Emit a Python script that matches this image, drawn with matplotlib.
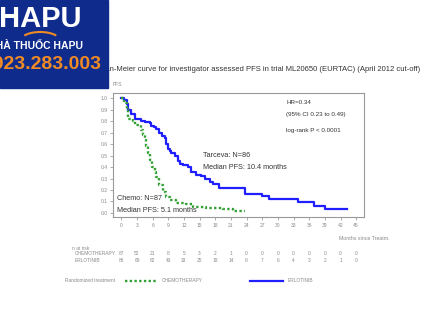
import matplotlib
matplotlib.use("Agg")
import matplotlib.pyplot as plt
import matplotlib.transforms as mtransforms
from matplotlib.lines import Line2D
from matplotlib.patches import Rectangle, Arc

plt.rcParams['font.family'] = ['Liberation Sans', 'DejaVu Sans']

# Kaplan-Meier steps
erlo_t = [0, 0.5, 1.0, 1.3, 1.8, 2.6, 3.8, 4.5, 5.4, 5.7, 6.3, 6.7, 7.3, 7.8, 8.3, 8.6, 8.9, 9.3, 9.6,
          10.2, 10.8, 11.3, 11.8, 12.8, 13.4, 14.4, 15.3, 16.0, 16.9, 17.5, 18.8, 23.6, 26.9, 28.2,
          33.9, 36.9, 39.0, 43.2]
erlo_s = [1.0, 0.98, 0.95, 0.90, 0.86, 0.82, 0.80, 0.79, 0.78, 0.76, 0.75, 0.73, 0.70, 0.67, 0.65, 0.60, 0.56, 0.54, 0.52,
          0.50, 0.45, 0.43, 0.42, 0.40, 0.36, 0.33, 0.32, 0.30, 0.27, 0.25, 0.22, 0.165, 0.148, 0.122,
          0.093, 0.064, 0.032, 0.032]
chemo_t = [0, 0.5, 1.0, 1.3, 2.2, 2.6, 3.8, 4.1, 4.5, 4.8, 5.1, 5.4, 5.9, 6.4, 6.7, 7.3, 8.0, 8.6, 9.3,
           10.5, 12.4, 13.7, 16.3, 19.5, 21.4, 23.6]
chemo_s = [1.0, 0.96, 0.90, 0.82, 0.80, 0.77, 0.72, 0.68, 0.65, 0.58, 0.52, 0.46, 0.40, 0.36, 0.31, 0.24, 0.18, 0.14, 0.11,
           0.09, 0.08, 0.055, 0.04, 0.035, 0.02, 0.02]

months = [0, 3, 6, 9, 12, 15, 18, 21, 24, 27, 30, 33, 36, 39, 42, 45]
risk_chemo = [87, 52, 21, 8, 5, 3, 2, 1, 0, 0, 0, 0, 0, 0, 0, 0]
risk_erlo = [86, 69, 62, 43, 33, 25, 19, 14, 8, 7, 6, 4, 3, 2, 1, 0]
yticks = [0.0, 0.1, 0.2, 0.3, 0.4, 0.5, 0.6, 0.7, 0.8, 0.9, 1.0]

blue = '#1f1fff'
green = '#33a033'
grey = '#8a8a8a'

fig = plt.figure(figsize=(4.24, 3.2), dpi=100)
ax = fig.add_axes([0.2665, 0.3219, 0.592, 0.3875])

ax.step(erlo_t, erlo_s, where='post', color=blue, lw=1.6)
ax.step(chemo_t, chemo_s, where='post', color=green, lw=1.7, linestyle=(0, (1, 1)))

ax.set_xlim(-1.6, 46.5)
ax.set_ylim(-0.035, 1.045)
ax.set_xticks(months)
ax.set_yticks(yticks)
ax.set_yticklabels(['%.1f' % v for v in yticks])
ax.tick_params(labelsize=3.6, colors=grey, length=2, width=0.5, pad=2)
for s in ax.spines.values():
    s.set_color('#999999')
    s.set_linewidth(0.8)

ax.text(0.69, 0.92, 'HR=0.34', transform=ax.transAxes, fontsize=4.5, color='#333333', va='center')
ax.text(0.69, 0.83, '(95% CI 0.23 to 0.49)', transform=ax.transAxes, fontsize=4.5, color='#333333', va='center')
ax.text(0.69, 0.70, 'log-rank P < 0.0001', transform=ax.transAxes, fontsize=4.5, color='#333333', va='center')
ax.text(0.36, 0.485, 'Tarceva: N=86', transform=ax.transAxes, fontsize=5.2, color='#333333')
ax.text(0.36, 0.385, 'Median PFS: 10.4 months', transform=ax.transAxes, fontsize=5.2, color='#333333')
ax.text(0.016, 0.14, 'Chemo: N=87', transform=ax.transAxes, fontsize=5.2, color='#333333')
ax.text(0.016, 0.04, 'Median PFS: 5.1 months', transform=ax.transAxes, fontsize=5.2, color='#333333')

fig.text(0.99, 0.784, 'Kaplan-Meier curve for investigator assessed PFS in trial ML20650 (EURTAC) (April 2012 cut-off)',
         ha='right', va='center', fontsize=5.5, color='#333333')
fig.text(0.266, 0.737, 'PFS', ha='left', va='center', fontsize=3.6, color=grey)
fig.text(0.80, 0.256, 'Months since Treatm.', ha='left', va='center', fontsize=3.8, color=grey)

# number at risk table
tr = mtransforms.blended_transform_factory(ax.transData, fig.transFigure)
fig.text(0.17, 0.225, 'n at risk', ha='left', va='center', fontsize=3.5, color=grey)
fig.text(0.177, 0.209, 'CHEMOTHERAPY', ha='left', va='center', fontsize=3.5, color=grey)
fig.text(0.177, 0.1875, 'ERLOTINIB', ha='left', va='center', fontsize=3.5, color=grey)
for m, c, e in zip(months, risk_chemo, risk_erlo):
    ax.text(m, 0.209, str(c), transform=tr, ha='center', va='center', fontsize=3.5, color=grey)
    ax.text(m, 0.1875, str(e), transform=tr, ha='center', va='center', fontsize=3.5, color=grey)

# legend row
fig.text(0.153, 0.122, 'Randomized treatment', ha='left', va='center', fontsize=3.5, color=grey)
fig.add_artist(Line2D([0.295, 0.37], [0.122, 0.122], transform=fig.transFigure, color=green, lw=1.7,
                      linestyle=(0, (1, 1))))
fig.text(0.382, 0.122, 'CHEMOTHERAPY', ha='left', va='center', fontsize=3.5, color=grey)
fig.add_artist(Line2D([0.59, 0.667], [0.122, 0.122], transform=fig.transFigure, color=blue, lw=1.6))
fig.text(0.679, 0.122, 'ERLOTINIB', ha='left', va='center', fontsize=3.5, color=grey)

# watermark logo in the top-left corner
fig.add_artist(Rectangle((0, 1 - 88 / 320), 108 / 424, 88 / 320, transform=fig.transFigure,
                         color='#0f2c8c', zorder=10))
fig.text(0.095, 0.94, 'HAPU', ha='center', va='center', fontsize=21, fontweight='bold', color='white', zorder=11)
fig.add_artist(Arc((0.095, 0.875), 0.09, 0.05, theta1=20, theta2=160, transform=fig.transFigure,
                   color='#f08a24', lw=1.5, zorder=11))
fig.text(0.196, 0.855, 'NHÀ THUỐC HAPU', ha='right', va='center', fontsize=7.5, fontweight='bold',
         color='white', zorder=11)
fig.text(0.238, 0.798, '0923.283.003', ha='right', va='center', fontsize=14, fontweight='bold',
         color='#f08a24', zorder=11)

fig.savefig('out.png', dpi=100)
